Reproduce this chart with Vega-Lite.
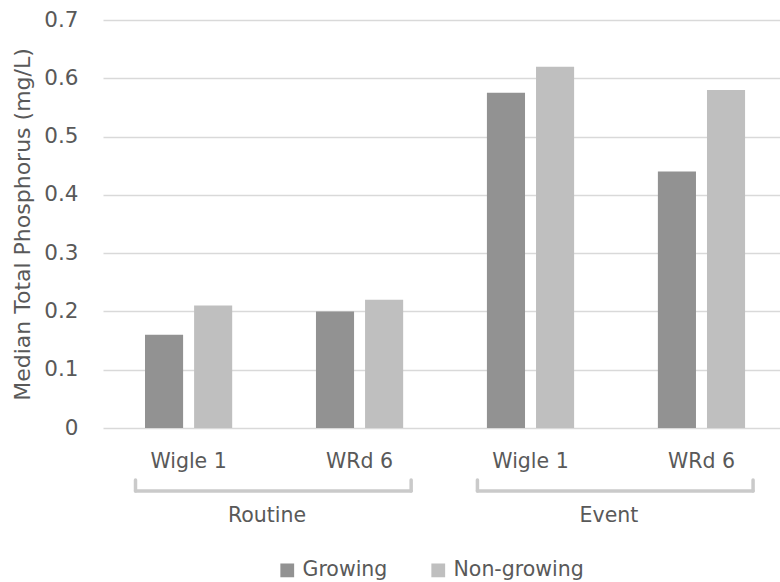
{
  "$schema": "https://vega.github.io/schema/vega-lite/v6.json",
  "width": 677,
  "height": 408,
  "autosize": {"type": "none"},
  "padding": {"left": 103, "top": 20, "right": 0, "bottom": 154},
  "background": "white",
  "config": {
    "view": {"stroke": null},
    "font": "DejaVu Sans",
    "text": {"color": "#595959", "font": "DejaVu Sans", "fontSize": 20.5}
  },
  "datasets": {
    "phosphorus": [
      {"period": "Routine", "site": "Wigle 1", "key": "Routine|Wigle 1", "season": "Growing", "tp": 0.16},
      {"period": "Routine", "site": "Wigle 1", "key": "Routine|Wigle 1", "season": "Non-growing", "tp": 0.21},
      {"period": "Routine", "site": "WRd 6", "key": "Routine|WRd 6", "season": "Growing", "tp": 0.2},
      {"period": "Routine", "site": "WRd 6", "key": "Routine|WRd 6", "season": "Non-growing", "tp": 0.22},
      {"period": "Event", "site": "Wigle 1", "key": "Event|Wigle 1", "season": "Growing", "tp": 0.575},
      {"period": "Event", "site": "Wigle 1", "key": "Event|Wigle 1", "season": "Non-growing", "tp": 0.62},
      {"period": "Event", "site": "WRd 6", "key": "Event|WRd 6", "season": "Growing", "tp": 0.44},
      {"period": "Event", "site": "WRd 6", "key": "Event|WRd 6", "season": "Non-growing", "tp": 0.58}
    ],
    "sites": [
      {"period": "Routine", "site": "Wigle 1", "key": "Routine|Wigle 1"},
      {"period": "Routine", "site": "WRd 6", "key": "Routine|WRd 6"},
      {"period": "Event", "site": "Wigle 1", "key": "Event|Wigle 1"},
      {"period": "Event", "site": "WRd 6", "key": "Event|WRd 6"}
    ],
    "periods": [
      {"period": "Routine", "first": "Routine|Wigle 1", "last": "Routine|WRd 6"},
      {"period": "Event", "first": "Event|Wigle 1", "last": "Event|WRd 6"}
    ]
  },
  "layer": [
    {
      "data": {"name": "phosphorus"},
      "mark": {"type": "bar"},
      "encoding": {
        "x": {
          "field": "key",
          "type": "nominal",
          "scale": {
            "domain": ["Routine|Wigle 1", "Routine|WRd 6", "Event|Wigle 1", "Event|WRd 6"],
            "paddingInner": 0.49,
            "paddingOuter": 0.225,
            "align": 0.546
          },
          "axis": null
        },
        "xOffset": {
          "field": "season",
          "type": "nominal",
          "scale": {"domain": ["Growing", "Non-growing"], "paddingInner": 0.224, "paddingOuter": 0}
        },
        "y": {
          "field": "tp",
          "type": "quantitative",
          "scale": {"domain": [0, 0.7], "nice": false, "zero": true},
          "axis": {
            "title": "Median Total Phosphorus (mg/L)",
            "titleFont": "DejaVu Sans",
            "titleFontSize": 22,
            "titleFontWeight": "normal",
            "titleColor": "#595959",
            "titlePadding": 9,
            "values": [0, 0.1, 0.2, 0.3, 0.4, 0.5, 0.6, 0.7],
            "format": ".1~f",
            "labelFont": "DejaVu Sans",
            "labelFontSize": 21.5,
            "labelColor": "#595959",
            "labelPadding": 25,
            "ticks": false,
            "tickSize": 0,
            "domain": false,
            "grid": true,
            "gridColor": "#d9d9d9",
            "gridWidth": 1.5
          }
        },
        "color": {
          "field": "season",
          "type": "nominal",
          "scale": {"domain": ["Growing", "Non-growing"], "range": ["#929292", "#bfbfbf"]},
          "legend": {
            "title": null,
            "orient": "none",
            "direction": "horizontal",
            "legendX": 174,
            "legendY": 540,
            "symbolType": "square",
            "symbolSize": 190,
            "symbolStrokeWidth": 0,
            "labelFont": "DejaVu Sans",
            "labelFontSize": 20.5,
            "labelColor": "#595959",
            "labelOffset": 5,
            "columnPadding": 40
          }
        }
      }
    },
    {
      "data": {"name": "sites"},
      "mark": {"type": "text", "align": "center", "baseline": "alphabetic"},
      "encoding": {
        "x": {"field": "key", "type": "nominal", "axis": null},
        "y": {"datum": -0.0686, "type": "quantitative", "axis": null},
        "text": {"field": "site"}
      }
    },
    {
      "data": {"name": "periods"},
      "mark": {"type": "rule", "color": "#cacaca", "strokeWidth": 3.5, "strokeCap": "round", "xOffset": -9.5, "x2Offset": 8},
      "encoding": {
        "x": {"field": "first", "type": "nominal", "bandPosition": 0, "axis": null},
        "x2": {"field": "last", "bandPosition": 1},
        "y": {"datum": -0.108, "type": "quantitative", "axis": null}
      }
    },
    {
      "data": {"name": "periods"},
      "mark": {"type": "rule", "color": "#cacaca", "strokeWidth": 3.5, "strokeCap": "round", "xOffset": -9.5},
      "encoding": {
        "x": {"field": "first", "type": "nominal", "bandPosition": 0, "axis": null},
        "y": {"datum": -0.0892, "type": "quantitative", "axis": null},
        "y2": {"datum": -0.108}
      }
    },
    {
      "data": {"name": "periods"},
      "mark": {"type": "rule", "color": "#cacaca", "strokeWidth": 3.5, "strokeCap": "round", "xOffset": 8},
      "encoding": {
        "x": {"field": "last", "type": "nominal", "bandPosition": 1, "axis": null},
        "y": {"datum": -0.0892, "type": "quantitative", "axis": null},
        "y2": {"datum": -0.108}
      }
    },
    {
      "data": {"name": "periods"},
      "mark": {"type": "text", "align": "center", "baseline": "alphabetic", "dx": 122},
      "encoding": {
        "x": {"field": "first", "type": "nominal", "bandPosition": 0, "axis": null},
        "y": {"datum": -0.1612, "type": "quantitative", "axis": null},
        "text": {"field": "period"}
      }
    }
  ],
  "resolve": {"axis": {"y": "independent"}}
}
